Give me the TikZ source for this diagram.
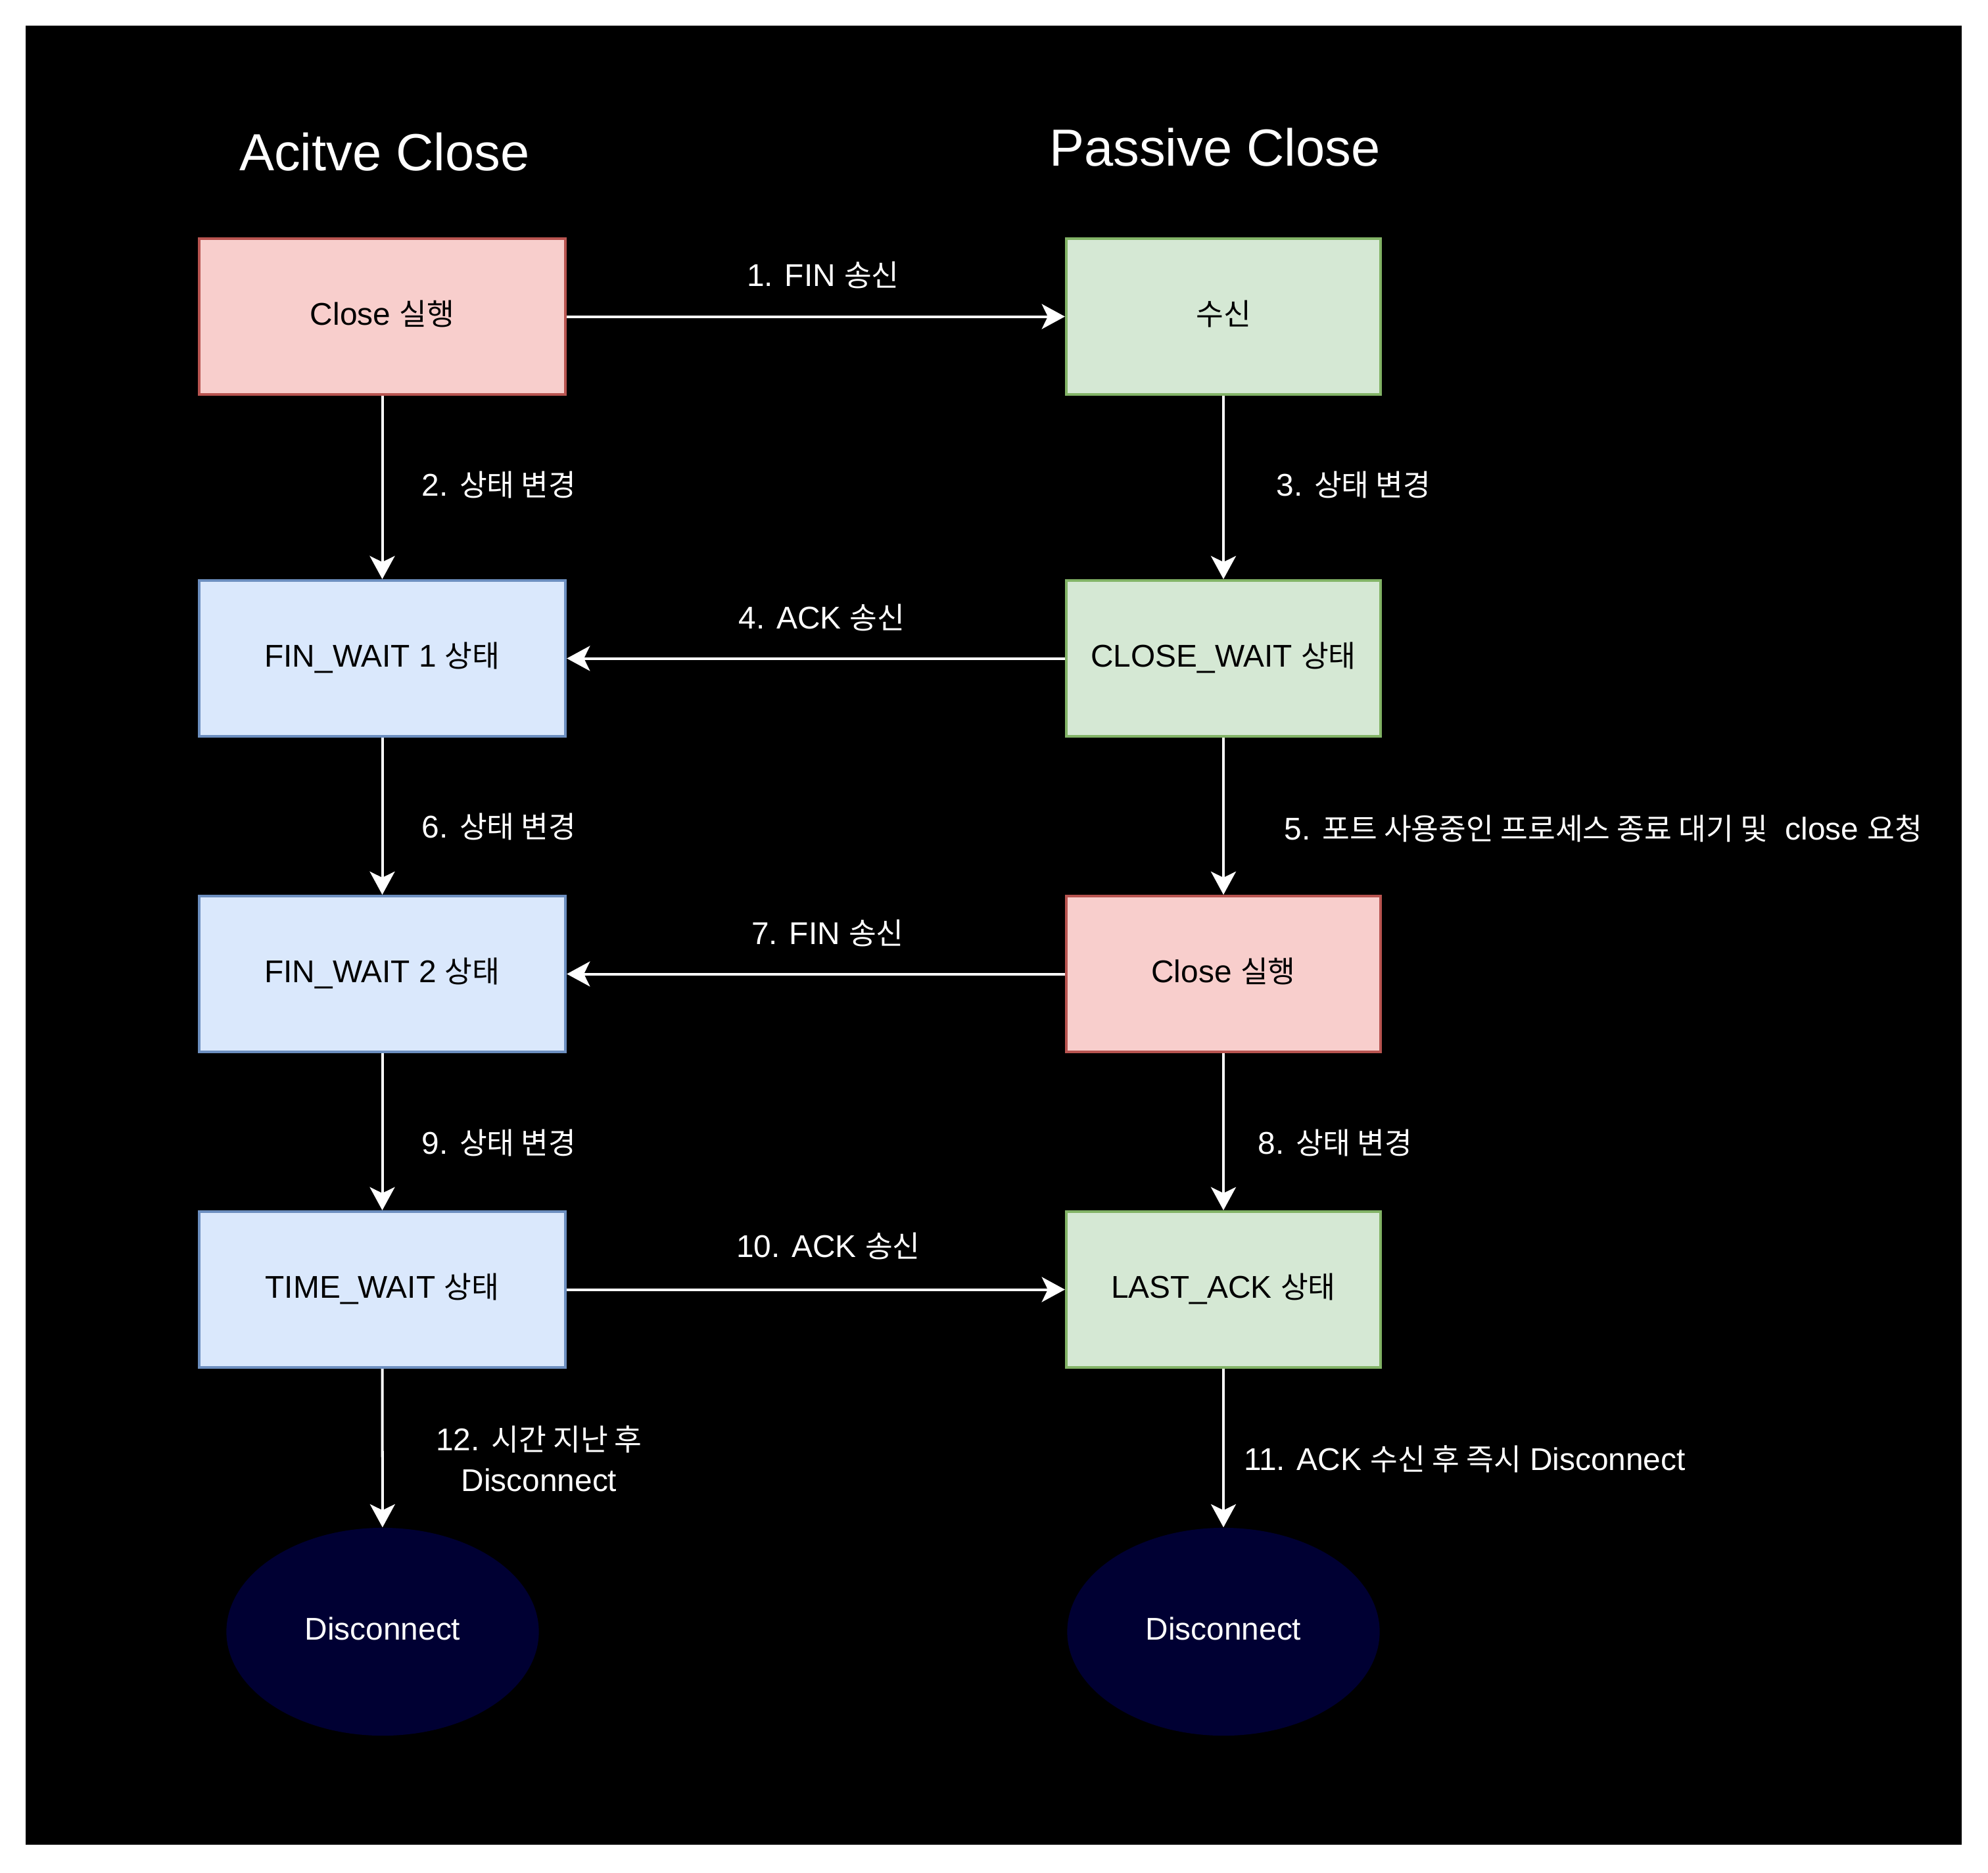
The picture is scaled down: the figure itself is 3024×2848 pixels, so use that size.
\documentclass[tikz,border=0pt]{standalone}
\usepackage{fontspec}
\setmainfont{Liberation Sans}
\newfontfamily\kr[Scale=0.95,RawFeature=+palt]{Noto Sans CJK KR}
\usetikzlibrary{arrows.meta,shapes.geometric}
\definecolor{rfill}{HTML}{F8CECC}
\definecolor{rdraw}{HTML}{B85450}
\definecolor{bfill}{HTML}{DAE8FC}
\definecolor{bdraw}{HTML}{6C8EBF}
\definecolor{gfill}{HTML}{D5E8D4}
\definecolor{gdraw}{HTML}{82B366}
\definecolor{navy}{HTML}{000033}
\begin{document}
\begin{tikzpicture}[x=0.01cm,y=-0.01cm,
  txt/.style={font=\fontsize{13.6}{17.4}\selectfont},
  lab/.style={txt,text=white,anchor=base,inner sep=0pt,align=center},
  ttl/.style={font=\fontsize{22.6}{27}\selectfont,text=white,anchor=base,inner sep=0pt},
  box/.style={txt,draw,line width=1.14pt,text=black,minimum height=2.37cm,text height=0.716em,text depth=0pt,inner sep=0pt},
  lbox/.style={box,minimum width=5.57cm},
  rbox/.style={box,minimum width=4.78cm},
  redb/.style={fill=rfill,draw=rdraw},
  blueb/.style={fill=bfill,draw=bdraw},
  greenb/.style={fill=gfill,draw=gdraw},
  endst/.style={txt,ellipse,fill=navy,draw=none,text=white,minimum width=4.75cm,minimum height=3.16cm,inner sep=0pt,text height=0.716em,text depth=0pt},
  arr/.style={draw=white,line width=1.14pt,-{Stealth[length=10pt,width=10.8pt,inset=2.6pt]}}
]
\useasboundingbox (0,0) rectangle (3024,2848);
\fill[white] (0,0) rectangle (3024,2848);
\fill[black] (39,39) rectangle (2984,2806);

% titles
\node[ttl] (t1) at (585,259) {Acitve Close};
\node[ttl] (t2) at (1848,252) {Passive Close};

% active side
\node[lbox,redb]   (a1) at (581.5,481.5)  {Close {\kr 실행}};
\node[lbox,blueb]  (a2) at (581.5,1001.5) {FIN\_WAIT 1 {\kr 상태}};
\node[lbox,blueb]  (a3) at (581.5,1481.5) {FIN\_WAIT 2 {\kr 상태}};
\node[lbox,blueb]  (a4) at (581.5,1961.5) {TIME\_WAIT {\kr 상태}};
\node[endst]       (ae) at (582,2482)     {Disconnect};

% passive side
\node[rbox,greenb] (p1) at (1861,481.5)  {{\kr 수신}};
\node[rbox,greenb] (p2) at (1861,1001.5) {CLOSE\_WAIT {\kr 상태}};
\node[rbox,redb]   (p3) at (1861,1481.5) {Close {\kr 실행}};
\node[rbox,greenb] (p4) at (1861,1961.5) {LAST\_ACK {\kr 상태}};
\node[endst]       (pe) at (1861,2482)   {Disconnect};

% connectors
\draw[arr] (a1) -- (p1);
\draw[arr] (a1) -- (a2);
\draw[arr] (p1) -- (p2);
\draw[arr] (p2) -- (a2);
\draw[arr] (p2) -- (p3);
\draw[arr] (a2) -- (a3);
\draw[arr] (p3) -- (a3);
\draw[arr] (p3) -- (p4);
\draw[arr] (a3) -- (a4);
\draw[arr] (a4) -- (p4);
\draw[arr] (p4) -- (pe);
\draw[arr] (a4) -- (ae);

% labels
\node[lab] (l1)  at (1252,435)  {1. FIN {\kr 송신}};
\node[lab] (l2)  at (759,754)   {2. {\kr 상태 변경}};
\node[lab] (l3)  at (2059,754)  {3. {\kr 상태 변경}};
\node[lab] (l4)  at (1250,956)  {4. ACK {\kr 송신}};
\node[lab] (l5)  at (2439,1277) {5. {\kr 포트 사용중인 프로세스 종료 대기 및}\ \ close {\kr 요청}};
\node[lab] (l6)  at (759,1274)  {6. {\kr 상태 변경}};
\node[lab] (l7)  at (1259,1436) {7. FIN {\kr 송신}};
\node[lab] (l8)  at (2031,1755) {8. {\kr 상태 변경}};
\node[lab] (l9)  at (759,1755)  {9. {\kr 상태 변경}};
\node[lab] (l10) at (1260,1912) {10. ACK {\kr 송신}};
\node[lab] (l11) at (2228,2236) {11. ACK {\kr 수신 후 즉시} Disconnect};
\node[lab] (l12) at (820,2268)  {12. {\kr 시간 지난 후}\\Disconnect};
\end{tikzpicture}
\end{document}
